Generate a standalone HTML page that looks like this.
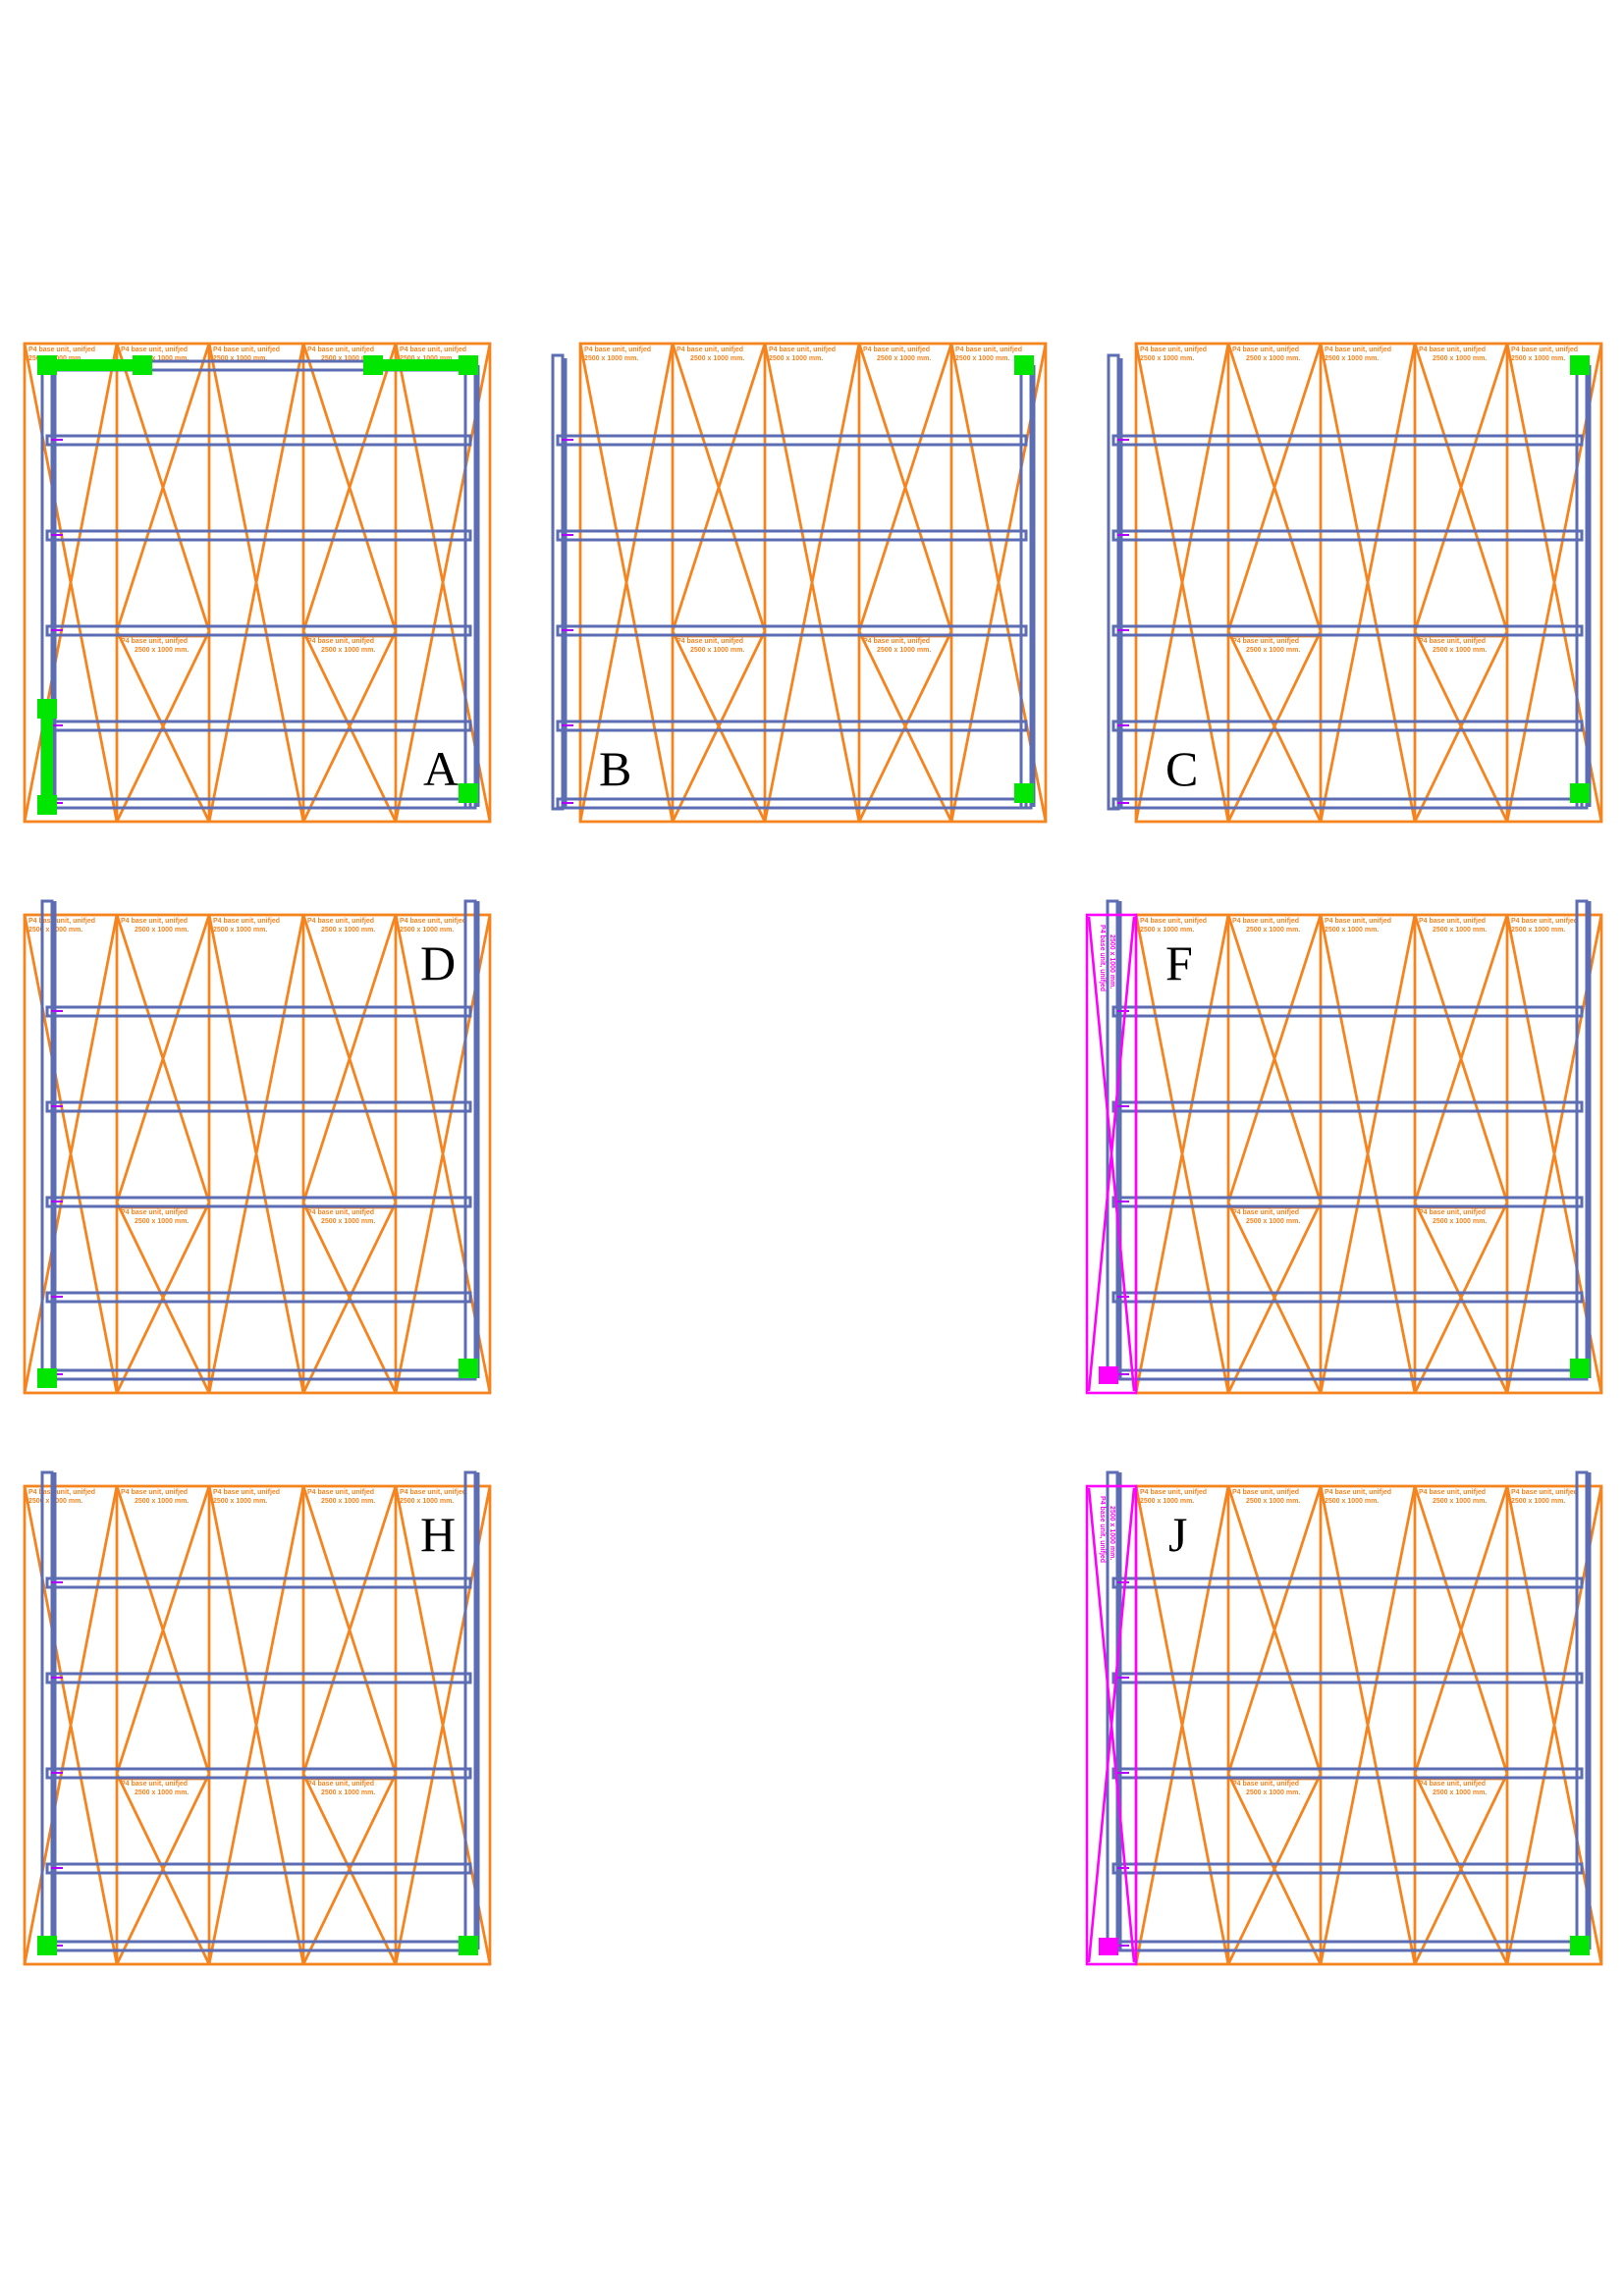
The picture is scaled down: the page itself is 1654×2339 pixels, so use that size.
<!DOCTYPE html>
<html><head><meta charset="utf-8"><style>
html,body{margin:0;padding:0;background:#fff;}
svg{display:block;}
.L{font-family:"Liberation Serif",serif;font-size:50px;fill:#000;}
.t{font-family:"Liberation Sans",sans-serif;font-size:7px;font-weight:bold;}
</style></head><body>
<svg width="1654" height="2339" viewBox="0 0 1654 2339" xmlns="http://www.w3.org/2000/svg">
<defs>
<g id="grid">
  <g fill="#f5841f" class="t">
    <text class="t" x="4" y="8">P4 base unit, unifjed</text><text class="t" x="4" y="17">2500 x 1000 mm.</text>
    <text class="t" x="98" y="8">P4 base unit, unifjed</text><text class="t" x="112" y="17">2500 x 1000 mm.</text>
    <text class="t" x="192" y="8">P4 base unit, unifjed</text><text class="t" x="192" y="17">2500 x 1000 mm.</text>
    <text class="t" x="288" y="8">P4 base unit, unifjed</text><text class="t" x="302" y="17">2500 x 1000 mm.</text>
    <text class="t" x="382" y="8">P4 base unit, unifjed</text><text class="t" x="382" y="17">2500 x 1000 mm.</text>
    <text class="t" x="98" y="305">P4 base unit, unifjed</text><text class="t" x="112" y="314">2500 x 1000 mm.</text>
    <text class="t" x="288" y="305">P4 base unit, unifjed</text><text class="t" x="302" y="314">2500 x 1000 mm.</text>
  </g>
  <g stroke="#f5841f" stroke-width="2.8" fill="none">
    <rect x="0" y="0" width="474" height="487"/>
    <line x1="94" y1="0" x2="94" y2="487"/><line x1="188" y1="0" x2="188" y2="487"/>
    <line x1="284" y1="0" x2="284" y2="487"/><line x1="378" y1="0" x2="378" y2="487"/>
    <path d="M0 0L94 487M94 0L0 487M188 0L284 487M284 0L188 487M378 0L474 487M474 0L378 487"/>
    <path d="M94 0L188 293M188 0L94 293M94 293L188 487M188 293L94 487"/>
    <path d="M284 0L378 293M378 0L284 293M284 293L378 487M378 293L284 487"/>
    <path d="M94 298H188M284 298H378"/>
  </g>
</g>
<g id="beams5" fill="none" stroke="#5d6db3" stroke-width="3">
  <rect x="0" y="94" width="431" height="9"/>
  <rect x="0" y="191" width="431" height="9"/>
  <rect x="0" y="288" width="431" height="9"/>
  <rect x="0" y="385" width="431" height="9"/>
  <rect x="0" y="464" width="431" height="9"/>
  <g stroke="#b000ff" stroke-width="2"><path d="M4 98h12M4 195h12M4 292h12M4 389h12M4 468h12"/></g>
</g>
<g id="beams5w" fill="none" stroke="#5d6db3" stroke-width="3">
  <rect x="0" y="94" width="477" height="9"/>
  <rect x="0" y="191" width="477" height="9"/>
  <rect x="0" y="288" width="477" height="9"/>
  <rect x="0" y="385" width="477" height="9"/>
  <rect x="0" y="464" width="477" height="9"/>
  <g stroke="#b000ff" stroke-width="2"><path d="M4 98h12M4 195h12M4 292h12M4 389h12M4 468h12"/></g>
</g>
</defs>

<!-- A -->
<g transform="translate(25,350)">
  <use href="#grid"/>
  <g fill="none" stroke="#5d6db3" stroke-width="3">
    <rect x="23" y="18" width="431" height="9"/>
    <rect x="18" y="18" width="10" height="455"/><line x1="31" y1="22" x2="31" y2="472"/>
    <rect x="449" y="18" width="10" height="455"/><line x1="462" y1="22" x2="462" y2="472"/>
  </g>
  <use href="#beams5" x="23"/>
  <g fill="#00e600">
    <rect x="13" y="12" width="20" height="20"/><rect x="13" y="16" width="117" height="12"/><rect x="110" y="12" width="20" height="20"/>
    <rect x="345" y="12" width="20" height="20"/><rect x="345" y="16" width="117" height="12"/><rect x="442" y="12" width="20" height="20"/>
    <rect x="13" y="362" width="20" height="20"/><rect x="17" y="382" width="12" height="82"/><rect x="13" y="460" width="20" height="20"/>
    <rect x="442" y="448" width="20" height="20"/>
  </g>
  <text class="L" x="406" y="450">A</text>
</g>

<!-- B -->
<g transform="translate(591,350)">
  <use href="#grid"/>
  <g fill="none" stroke="#5d6db3" stroke-width="3">
    <rect x="-28" y="12" width="10" height="462"/><line x1="-15" y1="15" x2="-15" y2="474"/>
    <rect x="449" y="22" width="10" height="451"/><line x1="462" y1="22" x2="462" y2="472"/>
  </g>
  <use href="#beams5w" x="-23"/>
  <g fill="#00e600"><rect x="442" y="12" width="20" height="20"/><rect x="442" y="448" width="20" height="20"/></g>
  <text class="L" x="19" y="450">B</text>
</g>

<!-- C -->
<g transform="translate(1157,350)">
  <use href="#grid"/>
  <g fill="none" stroke="#5d6db3" stroke-width="3">
    <rect x="-28" y="12" width="10" height="462"/><line x1="-15" y1="15" x2="-15" y2="474"/>
    <rect x="449" y="22" width="10" height="451"/><line x1="462" y1="22" x2="462" y2="472"/>
  </g>
  <use href="#beams5w" x="-23"/>
  <g fill="#00e600"><rect x="442" y="12" width="20" height="20"/><rect x="442" y="448" width="20" height="20"/></g>
  <text class="L" x="30" y="450">C</text>
</g>

<!-- D -->
<g transform="translate(25,932)">
  <use href="#grid"/>
  <g fill="none" stroke="#5d6db3" stroke-width="3">
    <rect x="18" y="-14" width="10" height="487"/><line x1="31" y1="-14" x2="31" y2="472"/>
    <rect x="449" y="-14" width="10" height="487"/><line x1="462" y1="-14" x2="462" y2="472"/>
  </g>
  <use href="#beams5" x="23"/>
  <g fill="#00e600"><rect x="13" y="462" width="20" height="20"/><rect x="442" y="452" width="20" height="20"/></g>
  <text class="L" x="403" y="66">D</text>
</g>

<!-- F -->
<g transform="translate(1157,932)">
  <use href="#grid"/>
  <g fill="none" stroke="#5d6db3" stroke-width="3">
    <rect x="-29" y="-14" width="10" height="487"/><line x1="-16" y1="-14" x2="-16" y2="472"/>
    <rect x="449" y="-14" width="10" height="487"/><line x1="462" y1="-14" x2="462" y2="472"/>
  </g>
  <use href="#beams5w" x="-23"/>
  <g stroke="#ff00ff" stroke-width="2.6" fill="none">
    <rect x="-50" y="0" width="50" height="487"/>
    <path d="M-48 2L-2 485M-2 2L-48 485"/>
  </g>
  <rect x="-38" y="460" width="20" height="18" fill="#ff00ff"/>
  <text class="t" fill="#ff00ff" transform="translate(-36,10) rotate(90)">P4 base unit, unifjed</text>
  <text class="t" fill="#ff00ff" transform="translate(-26,20) rotate(90)">2500 x 1000 mm.</text>
  <g fill="#00e600"><rect x="442" y="452" width="20" height="20"/></g>
  <text class="L" x="30" y="66">F</text>
</g>

<!-- H -->
<g transform="translate(25,1514)">
  <use href="#grid"/>
  <g fill="none" stroke="#5d6db3" stroke-width="3">
    <rect x="18" y="-14" width="10" height="487"/><line x1="31" y1="-14" x2="31" y2="472"/>
    <rect x="449" y="-14" width="10" height="487"/><line x1="462" y1="-14" x2="462" y2="472"/>
  </g>
  <use href="#beams5" x="23"/>
  <g fill="#00e600"><rect x="13" y="458" width="20" height="20"/><rect x="442" y="458" width="20" height="20"/></g>
  <text class="L" x="403" y="66">H</text>
</g>

<!-- J -->
<g transform="translate(1157,1514)">
  <use href="#grid"/>
  <g fill="none" stroke="#5d6db3" stroke-width="3">
    <rect x="-29" y="-14" width="10" height="487"/><line x1="-16" y1="-14" x2="-16" y2="472"/>
    <rect x="449" y="-14" width="10" height="487"/><line x1="462" y1="-14" x2="462" y2="472"/>
  </g>
  <use href="#beams5w" x="-23"/>
  <g stroke="#ff00ff" stroke-width="2.6" fill="none">
    <rect x="-50" y="0" width="50" height="487"/>
    <path d="M-48 2L-2 485M-2 2L-48 485"/>
  </g>
  <rect x="-38" y="460" width="20" height="18" fill="#ff00ff"/>
  <text class="t" fill="#ff00ff" transform="translate(-36,10) rotate(90)">P4 base unit, unifjed</text>
  <text class="t" fill="#ff00ff" transform="translate(-26,20) rotate(90)">2500 x 1000 mm.</text>
  <g fill="#00e600"><rect x="442" y="458" width="20" height="20"/></g>
  <text class="L" x="33" y="66">J</text>
</g>
</svg>
</body></html>
